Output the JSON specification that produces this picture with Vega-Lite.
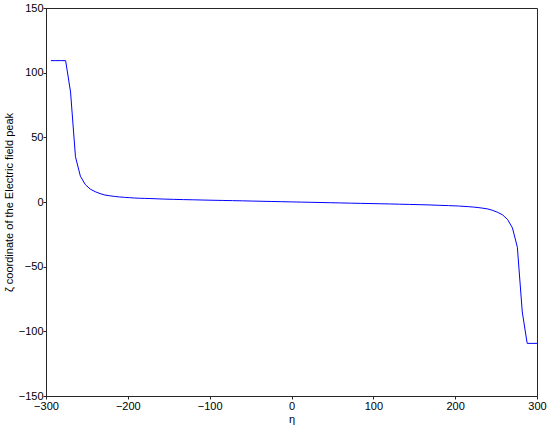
{
  "$schema": "https://vega.github.io/schema/vega-lite/v6.json",
  "autosize": "none",
  "width": 491,
  "height": 388,
  "padding": {"left": 46, "top": 8, "right": 13, "bottom": 32},
  "background": "white",
  "config": {
    "view": {"stroke": "#262626", "strokeWidth": 1},
    "font": "Liberation Sans",
    "axis": {
      "labelFont": "Liberation Sans",
      "titleFont": "Liberation Sans",
      "labelFontSize": 11,
      "titleFontSize": 11,
      "titleFontWeight": "normal",
      "labelColor": "#000000",
      "titleColor": "#000000",
      "domainColor": "#262626",
      "tickColor": "#262626",
      "labelFlush": false,
      "grid": false
    }
  },
  "data": {
    "values": [
      {"eta": -294, "zeta": 109.3},
      {"eta": -288, "zeta": 109.3},
      {"eta": -282, "zeta": 109.3},
      {"eta": -276, "zeta": 109.3},
      {"eta": -270, "zeta": 85},
      {"eta": -264, "zeta": 35},
      {"eta": -258, "zeta": 20},
      {"eta": -252, "zeta": 13.5},
      {"eta": -246, "zeta": 10},
      {"eta": -240, "zeta": 8},
      {"eta": -234, "zeta": 6.5},
      {"eta": -228, "zeta": 5.4},
      {"eta": -222, "zeta": 4.8},
      {"eta": -216, "zeta": 4.3},
      {"eta": -210, "zeta": 3.9},
      {"eta": -204, "zeta": 3.6},
      {"eta": -198, "zeta": 3.35},
      {"eta": -192, "zeta": 3.1},
      {"eta": -186, "zeta": 2.9},
      {"eta": -180, "zeta": 2.8},
      {"eta": -174, "zeta": 2.7},
      {"eta": -168, "zeta": 2.55},
      {"eta": -162, "zeta": 2.4},
      {"eta": -156, "zeta": 2.25},
      {"eta": -144, "zeta": 2.05},
      {"eta": -132, "zeta": 1.85},
      {"eta": -120, "zeta": 1.7},
      {"eta": -108, "zeta": 1.5},
      {"eta": -96, "zeta": 1.35},
      {"eta": -84, "zeta": 1.2},
      {"eta": -72, "zeta": 1.05},
      {"eta": -60, "zeta": 0.9},
      {"eta": -48, "zeta": 0.72},
      {"eta": -36, "zeta": 0.56},
      {"eta": -24, "zeta": 0.4},
      {"eta": -12, "zeta": 0.24},
      {"eta": 0, "zeta": 0.08},
      {"eta": 12, "zeta": -0.08},
      {"eta": 24, "zeta": -0.24},
      {"eta": 36, "zeta": -0.4},
      {"eta": 48, "zeta": -0.56},
      {"eta": 60, "zeta": -0.72},
      {"eta": 72, "zeta": -0.9},
      {"eta": 84, "zeta": -1.05},
      {"eta": 96, "zeta": -1.2},
      {"eta": 108, "zeta": -1.35},
      {"eta": 120, "zeta": -1.5},
      {"eta": 132, "zeta": -1.7},
      {"eta": 144, "zeta": -1.85},
      {"eta": 156, "zeta": -2.05},
      {"eta": 168, "zeta": -2.25},
      {"eta": 180, "zeta": -2.55},
      {"eta": 192, "zeta": -2.8},
      {"eta": 204, "zeta": -3.1},
      {"eta": 216, "zeta": -3.6},
      {"eta": 222, "zeta": -3.9},
      {"eta": 228, "zeta": -4.3},
      {"eta": 234, "zeta": -4.8},
      {"eta": 240, "zeta": -5.4},
      {"eta": 246, "zeta": -6.5},
      {"eta": 252, "zeta": -8},
      {"eta": 258, "zeta": -10},
      {"eta": 264, "zeta": -13.5},
      {"eta": 270, "zeta": -20},
      {"eta": 276, "zeta": -35},
      {"eta": 282, "zeta": -85},
      {"eta": 288, "zeta": -109.3},
      {"eta": 294, "zeta": -109.3},
      {"eta": 300, "zeta": -109.3}
    ]
  },
  "mark": {"type": "line", "color": "#0000ff", "strokeWidth": 1},
  "encoding": {
    "x": {
      "field": "eta", "type": "quantitative",
      "scale": {"domain": [-300, 300], "nice": false, "zero": false},
      "axis": {"orient": "bottom", "title": "η", "values": [-300, -200, -100, 0, 100, 200, 300], "tickSize": 3, "labelPadding": 1, "titlePadding": 2}
    },
    "y": {
      "field": "zeta", "type": "quantitative",
      "scale": {"domain": [-150, 150], "nice": false, "zero": false},
      "axis": {"orient": "left", "title": "ζ coordinate of the Electric field peak", "values": [-150, -100, -50, 0, 50, 100, 150], "tickSize": 3, "labelPadding": 0, "titlePadding": 4}
    }
  }
}
